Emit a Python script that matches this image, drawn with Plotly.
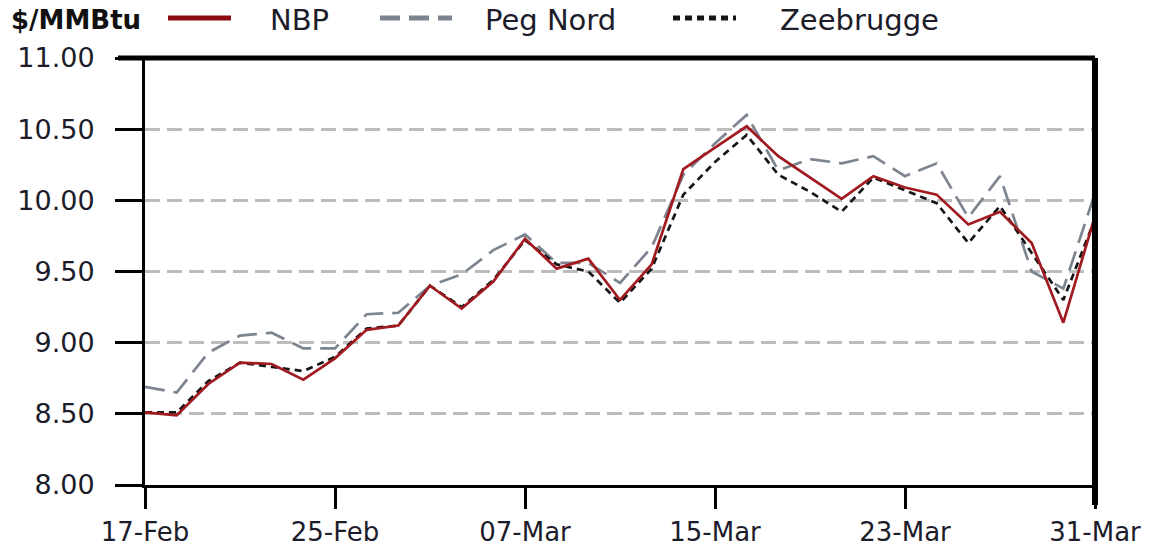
import plotly.graph_objects as go

# Trading-session index and the dates labelled on the axis (every 6th session)
sessions = list(range(31))
tick_sessions = [0, 6, 12, 18, 24, 30]
tick_labels = ["17-Feb", "25-Feb", "07-Mar", "15-Mar", "23-Mar", "31-Mar"]

# Day-ahead gas prices, $/MMBtu
nbp = [8.51, 8.49, 8.71, 8.86, 8.85, 8.74, 8.89, 9.09, 9.12, 9.40, 9.24,
       9.43, 9.73, 9.52, 9.59, 9.30, 9.55, 10.22, 10.37, 10.52, 10.31,
       10.16, 10.01, 10.17, 10.09, 10.04, 9.83, 9.92, 9.70, 9.14, 9.89]
peg_nord = [8.69, 8.65, 8.93, 9.05, 9.07, 8.96, 8.96, 9.20, 9.21, 9.40, 9.48,
            9.65, 9.76, 9.56, 9.56, 9.42, 9.67, 10.18, 10.40, 10.60, 10.21,
            10.29, 10.26, 10.31, 10.17, 10.26, 9.88, 10.17, 9.50, 9.38, 10.05]
zeebrugge = [8.51, 8.51, 8.73, 8.86, 8.83, 8.80, 8.90, 9.10, 9.12, 9.40, 9.25,
             9.44, 9.72, 9.55, 9.50, 9.28, 9.52, 10.04, 10.27, 10.46, 10.18,
             10.06, 9.92, 10.16, 10.07, 9.98, 9.70, 9.96, 9.63, 9.30, 9.87]

y_ticks = [8.0, 8.5, 9.0, 9.5, 10.0, 10.5, 11.0]

series = [
    ("NBP", nbp, "#a11a20", "solid"),
    ("Peg Nord", peg_nord, "#7c8490", "20px,9px"),
    ("Zeebrugge", zeebrugge, "#161616", "7px,5px"),
]

fig = go.Figure()
for name, vals, color, dash in [series[1], series[2], series[0]]:
    fig.add_trace(go.Scatter(
        x=sessions, y=vals, mode="lines", name=name,
        line=dict(color=color, width=2.7, dash=dash),
        showlegend=False,
    ))

wide = "DejaVu Sans, Verdana, sans-serif"

L, R, T, B = 145, 63, 58, 65
W, H = 1158, 550
pw, ph = W - L - R, H - T - B

fig.update_layout(
    width=W, height=H,
    margin=dict(l=L, r=R, t=T, b=B),
    paper_bgcolor="white", plot_bgcolor="white",
    xaxis=dict(
        range=[0, 30], tickmode="array", tickvals=tick_sessions, ticktext=tick_labels,
        showgrid=False, zeroline=False, automargin=False,
        showline=True, linecolor="black", linewidth=3,
        ticks="outside", ticklen=21, tickwidth=3, tickcolor="black",
        tickfont=dict(family=wide, size=26, color="#1c1c2a"),
        ticklabelstandoff=1,
    ),
    yaxis=dict(
        range=[8.0, 11.0], tickmode="array", tickvals=y_ticks,
        ticktext=[f"{v:.2f}" for v in y_ticks],
        showgrid=True, gridcolor="#bcbcbc", gridwidth=3, griddash="15px,7px",
        zeroline=False, automargin=False,
        showline=True, linecolor="black", linewidth=3,
        ticks="outside", ticklen=27, tickwidth=3, tickcolor="black",
        tickfont=dict(family=wide, size=27, color="#1c1c2a"),
        ticklabelstandoff=15,
    ),
)

# Top and right frame lines (heavier than the axes)
fig.add_shape(type="line", xref="paper", yref="paper", x0=-27 / pw, x1=1.0,
              y0=1, y1=1, line=dict(color="black", width=5))
fig.add_shape(type="line", xref="paper", yref="paper", x0=1.0, x1=1.0,
              y0=-20 / ph, y1=1.0, line=dict(color="black", width=6))


def px_x(p):
    return (p - L) / pw


def px_y(p):
    return (H - B - p) / ph


# Header legend: unit label, then a sample stroke and a name for each series
fig.add_annotation(x=px_x(9), y=px_y(20), xref="paper", yref="paper",
                   text="<b>$/MMBtu</b>", showarrow=False,
                   xanchor="left", yanchor="middle",
                   font=dict(family=wide, size=26, color="#111111"))
legend_pos = {"NBP": (168, 231, 268), "Peg Nord": (380, 452, 483),
              "Zeebrugge": (673, 736, 778)}
for name, vals, color, dash in series:
    x0, x1, tx = legend_pos[name]
    fig.add_shape(type="line", xref="paper", yref="paper",
                  x0=px_x(x0), x1=px_x(x1), y0=px_y(18), y1=px_y(18),
                  line=dict(color="#8c0b0f" if name == "NBP" else color,
                            width=5, dash=dash))
    fig.add_annotation(x=px_x(tx), y=px_y(20), xref="paper", yref="paper",
                       text=name, showarrow=False, xanchor="left", yanchor="middle",
                       font=dict(family=wide, size=29, color="#1c1c2a"))

fig.write_html("out.html")
